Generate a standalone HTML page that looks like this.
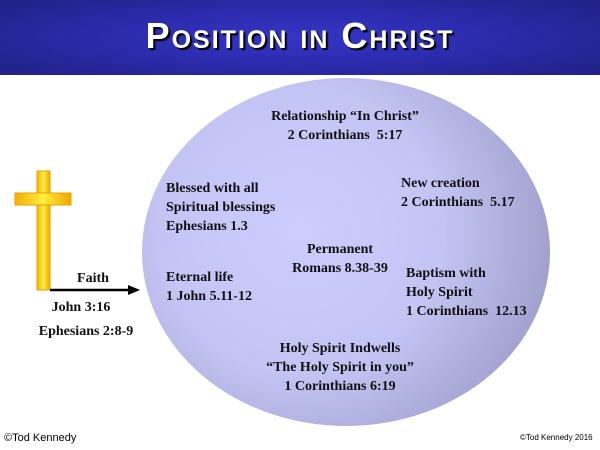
<!DOCTYPE html>
<html><head><style>
body{margin:0;width:600px;height:450px;background:#fff;position:relative;overflow:hidden;font-family:"Liberation Serif",serif;}
.t{position:absolute;font-weight:bold;font-size:14px;line-height:19px;color:#111;white-space:nowrap}
.c{text-align:center}
</style></head><body>
<div style="position:absolute;left:0;top:0;width:600px;height:75px;background:radial-gradient(ellipse 60% 70% at 50% 50%,#3535c8 0%,#2a2aa8 60%,#22228a 100%);"></div>
<div style="position:absolute;left:0;top:15px;width:600px;text-align:center;color:#fff;font-weight:bold;font-size:36px;font-variant:small-caps;letter-spacing:2px;text-shadow:2px 2px 1px #000;font-family:'Liberation Sans',sans-serif;">Position in Christ</div>
<svg style="position:absolute;left:0;top:0" width="600" height="450">
<defs>
<radialGradient id="g" cx="300" cy="230" r="260" gradientUnits="userSpaceOnUse">
<stop offset="0" stop-color="#ccccff"/><stop offset="0.55" stop-color="#c4c4f4"/><stop offset="1" stop-color="#9f9fcc"/></radialGradient>
<linearGradient id="y" x1="0" x2="1"><stop offset="0" stop-color="#f0b000"/><stop offset="0.5" stop-color="#ffee40"/><stop offset="1" stop-color="#f0a800"/></linearGradient>
</defs>
<ellipse cx="346" cy="252" rx="204" ry="174" fill="url(#g)"/>
<rect x="37" y="171" width="13" height="119" fill="url(#y)" stroke="#e8a000" stroke-width="1"/>
<rect x="15" y="193" width="56" height="12" fill="url(#y)" stroke="#e8a000" stroke-width="1"/>
<line x1="50" y1="290" x2="130" y2="290" stroke="#000" stroke-width="2.5"/>
<polygon points="128,285 140,290 128,295" fill="#000"/>
</svg>
<div class="t c" style="left:53px;top:269px;width:80px">Faith</div>
<div class="t c" style="left:26px;top:298px;width:110px">John 3:16</div>
<div class="t c" style="left:21px;top:322px;width:130px">Ephesians 2:8-9</div>
<div class="t c" style="left:240px;top:107px;width:210px">Relationship “In Christ”<br>2 Corinthians&nbsp; 5:17</div>
<div class="t" style="left:166px;top:179px">Blessed with all<br>Spiritual blessings<br>Ephesians 1.3</div>
<div class="t" style="left:401px;top:174px">New creation<br>2 Corinthians&nbsp; 5.17</div>
<div class="t c" style="left:265px;top:240px;width:150px">Permanent<br>Romans 8.38-39</div>
<div class="t" style="left:166px;top:268px">Eternal life<br>1 John 5.11-12</div>
<div class="t" style="left:406px;top:264px">Baptism with<br>Holy Spirit<br>1 Corinthians&nbsp; 12.13</div>
<div class="t c" style="left:230px;top:339px;width:220px">Holy Spirit Indwells<br>“The Holy Spirit in you”<br>1 Corinthians 6:19</div>
<div style="position:absolute;left:4px;top:432px;font-size:11px;font-family:'Liberation Sans',sans-serif;white-space:nowrap">©Tod Kennedy</div>
<div style="position:absolute;left:520px;top:433px;font-size:8px;font-family:'Liberation Sans',sans-serif;white-space:nowrap">©Tod Kennedy 2016</div>
</body></html>
